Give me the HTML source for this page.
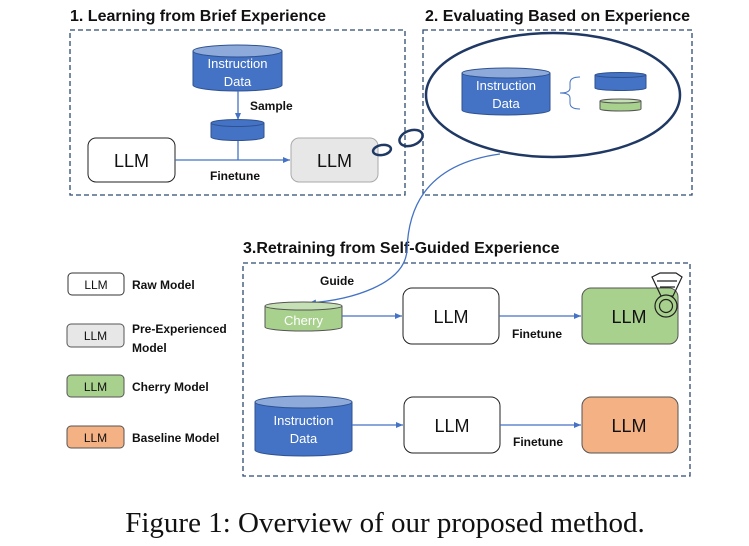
<!DOCTYPE html>
<html><head><meta charset="utf-8"><style>
html,body{margin:0;padding:0;background:#fff;}
svg{display:block;}
.t{font-family:"Liberation Sans",sans-serif;}
.b{font-weight:bold;fill:#111;}
</style></head><body>
<svg width="749" height="546" viewBox="0 0 749 546" xmlns="http://www.w3.org/2000/svg" class="t">
<defs>
<marker id="ar" markerWidth="8" markerHeight="8" refX="7" refY="4" orient="auto" markerUnits="userSpaceOnUse">
<path d="M0,1 L7,4 L0,7 z" fill="#4472c4"/></marker>
</defs>
<text x="70" y="21" font-size="16" class="b">1. Learning from Brief Experience</text>
<text x="425" y="21" font-size="16" class="b">2. Evaluating Based on Experience</text>
<text x="243" y="253" font-size="16" class="b">3.Retraining from Self-Guided Experience</text>
<g fill="none" stroke="#2f4a70" stroke-width="1.3" stroke-dasharray="5,3">
<rect x="70" y="30" width="335" height="165"/>
<rect x="423" y="30" width="269" height="165"/>
<rect x="243" y="263" width="447" height="213"/>
</g>
<path d="M193,51 V85 A44.5,6 0 0 0 282,85 V51" fill="#4472c4" stroke="#2f528f" stroke-width="1"/>
<ellipse cx="237.5" cy="51" rx="44.5" ry="6" fill="#8eaadb" stroke="#2f528f" stroke-width="1"/>
<text x="237.5" y="68" font-size="13" fill="#fff" text-anchor="middle">Instruction</text>
<text x="237.5" y="86" font-size="13" fill="#fff" text-anchor="middle">Data</text>
<line x1="238" y1="91" x2="238" y2="120" stroke="#4472c4" stroke-width="1.3" marker-end="url(#ar)"/>
<path d="M211,123 V137 A26.5,3.5 0 0 0 264,137 V123" fill="#4472c4" stroke="#2f528f" stroke-width="1"/>
<ellipse cx="237.5" cy="123" rx="26.5" ry="3.5" fill="#4472c4" stroke="#2f528f" stroke-width="1"/>
<line x1="238" y1="141" x2="238" y2="160" stroke="#4472c4" stroke-width="1.3"/>
<text x="250" y="110" font-size="12" class="b">Sample</text>
<rect x="88" y="138" width="87" height="44" rx="8" fill="#fff" stroke="#222" stroke-width="1"/>
<text x="131.5" y="167" font-size="18" text-anchor="middle" fill="#111">LLM</text>
<line x1="175" y1="160" x2="290" y2="160" stroke="#4472c4" stroke-width="1.3" marker-end="url(#ar)"/>
<text x="210" y="180" font-size="12" class="b">Finetune</text>
<rect x="291" y="138" width="87" height="44" rx="8" fill="#e7e7e7" stroke="#aaa" stroke-width="1"/>
<text x="334.5" y="167" font-size="18" text-anchor="middle" fill="#111">LLM</text>
<ellipse cx="382" cy="150" rx="9" ry="5" fill="none" stroke="#1f3864" stroke-width="2.5" transform="rotate(-10 382 150)"/>
<ellipse cx="411" cy="138" rx="12" ry="7.5" fill="none" stroke="#1f3864" stroke-width="2.5" transform="rotate(-20 411 138)"/>
<ellipse cx="553" cy="95" rx="127" ry="62" fill="#fff" stroke="#1f3864" stroke-width="2.5"/>
<path d="M462,73 V110 A44,5 0 0 0 550,110 V73" fill="#4472c4" stroke="#2f528f" stroke-width="1"/>
<ellipse cx="506" cy="73" rx="44" ry="5" fill="#8eaadb" stroke="#2f528f" stroke-width="1"/>
<text x="506" y="90" font-size="13" fill="#fff" text-anchor="middle">Instruction</text>
<text x="506" y="108" font-size="13" fill="#fff" text-anchor="middle">Data</text>
<path d="M580,77 Q570,77 570,83 V88 Q570,93 560,93 Q570,93 570,98 V103 Q570,109 580,109" fill="none" stroke="#4472c4" stroke-width="1"/>
<path d="M595,75 V88 A25.5,2.5 0 0 0 646,88 V75" fill="#4472c4" stroke="#2f528f" stroke-width="1"/>
<ellipse cx="620.5" cy="75" rx="25.5" ry="2.5" fill="#4472c4" stroke="#2f528f" stroke-width="1"/>
<path d="M600,101 V109 A20.5,2 0 0 0 641,109 V101" fill="#a9d18e" stroke="#555" stroke-width="1"/>
<ellipse cx="620.5" cy="101" rx="20.5" ry="2" fill="#c5e0b4" stroke="#555" stroke-width="1"/>
<path d="M500,154 C420,165 408,215 407,250 C405,285 350,300 309,303" fill="none" stroke="#4472c4" stroke-width="1.3" marker-end="url(#ar)"/>
<text x="320" y="285" font-size="12" class="b">Guide</text>
<path d="M265,306 V327 A38.5,4 0 0 0 342,327 V306" fill="#a9d18e" stroke="#555" stroke-width="1"/>
<ellipse cx="303.5" cy="306" rx="38.5" ry="4" fill="#c5e0b4" stroke="#555" stroke-width="1"/>
<text x="303.5" y="325" font-size="13" fill="#fff" text-anchor="middle">Cherry</text>
<line x1="342" y1="316" x2="402" y2="316" stroke="#4472c4" stroke-width="1.3" marker-end="url(#ar)"/>
<rect x="403" y="288" width="96" height="56" rx="9" fill="#fff" stroke="#222" stroke-width="1"/>
<text x="451" y="323" font-size="18" text-anchor="middle" fill="#111">LLM</text>
<line x1="499" y1="316" x2="581" y2="316" stroke="#4472c4" stroke-width="1.3" marker-end="url(#ar)"/>
<text x="512" y="338" font-size="12" class="b">Finetune</text>
<rect x="582" y="288" width="96" height="56" rx="9" fill="#a9d18e" stroke="#555" stroke-width="1"/>
<text x="629" y="323" font-size="18" text-anchor="middle" fill="#111">LLM</text>
<g fill="none" stroke="#222" stroke-width="1.2">
<path d="M652,277 L660,273 L676,273 L682,277 L673,296 L661,296 z"/>
<path d="M657,281 L677,281 M660,287 L675,287"/>
<circle cx="666" cy="306" r="11" fill="#a9d18e"/>
<circle cx="666" cy="306" r="6.5"/>
</g>
<path d="M255,402 V450 A48.5,6 0 0 0 352,450 V402" fill="#4472c4" stroke="#2f528f" stroke-width="1"/>
<ellipse cx="303.5" cy="402" rx="48.5" ry="6" fill="#8eaadb" stroke="#2f528f" stroke-width="1"/>
<text x="303.5" y="425" font-size="13" fill="#fff" text-anchor="middle">Instruction</text>
<text x="303.5" y="443" font-size="13" fill="#fff" text-anchor="middle">Data</text>
<line x1="352" y1="425" x2="403" y2="425" stroke="#4472c4" stroke-width="1.3" marker-end="url(#ar)"/>
<rect x="404" y="397" width="96" height="56" rx="9" fill="#fff" stroke="#222" stroke-width="1"/>
<text x="452" y="432" font-size="18" text-anchor="middle" fill="#111">LLM</text>
<line x1="500" y1="425" x2="581" y2="425" stroke="#4472c4" stroke-width="1.3" marker-end="url(#ar)"/>
<text x="513" y="446" font-size="12" class="b">Finetune</text>
<rect x="582" y="397" width="96" height="56" rx="9" fill="#f4b183" stroke="#555" stroke-width="1"/>
<text x="629" y="432" font-size="18" text-anchor="middle" fill="#111">LLM</text>
<rect x="68" y="273" width="56" height="22" rx="4" fill="#fff" stroke="#333" stroke-width="1"/>
<text x="96" y="289" font-size="12" text-anchor="middle" fill="#111">LLM</text>
<text x="132" y="289" font-size="12" class="b">Raw Model</text>
<rect x="67" y="324" width="57" height="23" rx="4" fill="#e7e7e7" stroke="#555" stroke-width="1"/>
<text x="95.5" y="340" font-size="12" text-anchor="middle" fill="#111">LLM</text>
<text x="132" y="333" font-size="12" class="b">Pre-Experienced</text>
<text x="132" y="352" font-size="12" class="b">Model</text>
<rect x="67" y="375" width="57" height="22" rx="4" fill="#a9d18e" stroke="#555" stroke-width="1"/>
<text x="95.5" y="391" font-size="12" text-anchor="middle" fill="#111">LLM</text>
<text x="132" y="391" font-size="12" class="b">Cherry Model</text>
<rect x="67" y="426" width="57" height="22" rx="4" fill="#f4b183" stroke="#555" stroke-width="1"/>
<text x="95.5" y="442" font-size="12" text-anchor="middle" fill="#111">LLM</text>
<text x="132" y="442" font-size="12" class="b">Baseline Model</text>
<text x="385" y="532" font-size="29" text-anchor="middle" fill="#111" font-family="Liberation Serif, serif">Figure 1: Overview of our proposed method.</text>
</svg>
</body></html>
